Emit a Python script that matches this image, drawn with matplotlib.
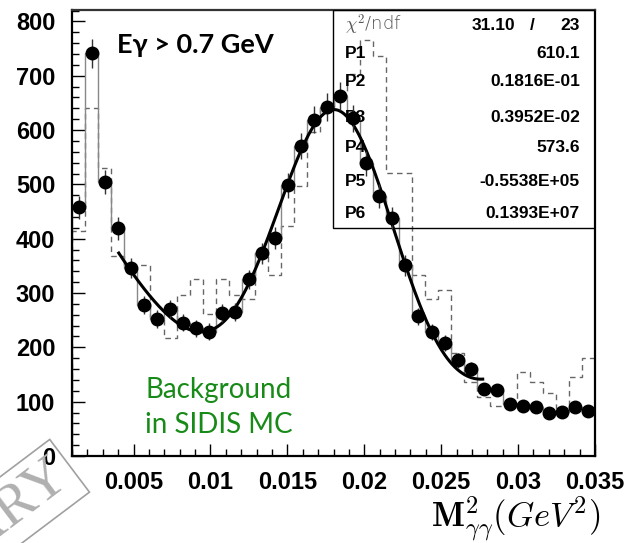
import numpy as np
import matplotlib
matplotlib.use("Agg")
import matplotlib.pyplot as plt
from matplotlib.ticker import MultipleLocator
from matplotlib.patches import Rectangle

# ---------------- data ----------------
x_min, x_max, n_bins = 0.001, 0.035, 40
data_counts = [458, 741, 504, 419, 346, 278, 252, 270, 245, 235,
               229, 263, 265, 325, 373, 401, 498, 570, 619, 642,
               662, 622, 539, 478, 438, 351, 257, 228, 208, 176,
               160, 123, 121, 96, 92, 90, 79, 81, 90, 83]
mc_counts = [414, 640, 530, 368, 351, 351, 255, 218, 296, 325,
             262, 325, 296, 289, 373, 333, 424, 497, 596, 640,
             665, 704, 765, 737, 521, 521, 333, 289, 305, 190,
             137, 109, 92, 92, 155, 137, 116, 88, 145, 180]
fit_params = [610.1, 0.01816, 0.003952, 573.6, -0.5538e5, 0.1393e7]
fit_range = (0.00404, 0.0277)
chi2, ndf = "31.10", "23"
param_names = ["P1", "P2", "P3", "P4", "P5", "P6"]
param_labels = ["610.1", "0.1816E-01", "0.3952E-02", "573.6", "-0.5538E+05", "0.1393E+07"]
xticks = [0.005, 0.01, 0.015, 0.02, 0.025, 0.03, 0.035]
xtick_labels = ["0.005", "0.01", "0.015", "0.02", "0.025", "0.03", "0.035"]
yticks = [0, 100, 200, 300, 400, 500, 600, 700, 800]

edges = np.linspace(x_min, x_max, n_bins + 1)
centers = 0.5 * (edges[:-1] + edges[1:])
data = np.array(data_counts, float)
mc = np.array(mc_counts, float)

plt.rcParams["mathtext.fontset"] = "cm"

# ---------------- figure ----------------
W, H = 627, 543
fig = plt.figure(figsize=(W / 100, H / 100), dpi=100)
L, R, B, T = 72, 595, 456, 10
ax = fig.add_axes([L / W, (H - B) / H, (R - L) / W, (B - T) / H])

ax.stairs(mc, edges, color="#666666", lw=1.0, ls=(0, (4, 3)), zorder=2)
ax.stairs(data, edges, color="#888888", lw=1.0, zorder=2)

p1, p2, p3, p4, p5, p6 = fit_params
xf = np.linspace(fit_range[0], fit_range[1], 300)
yf = p1 * np.exp(-0.5 * ((xf - p2) / p3) ** 2) + p4 + p5 * xf + p6 * xf ** 2
ax.plot(xf, yf, color="black", lw=2.2, zorder=4)

ax.errorbar(centers, data, yerr=np.sqrt(data), fmt="o", color="black",
            ms=9, elinewidth=1.0, ecolor="#333333", capsize=0, zorder=6)

ax.set_xlim(x_min, x_max)
ax.set_ylim(0, 821)
ax.set_xticks(xticks)
ax.set_xticklabels(xtick_labels)
ax.set_yticks(yticks)
ax.xaxis.set_minor_locator(MultipleLocator(0.001))
ax.yaxis.set_minor_locator(MultipleLocator(20))
ax.tick_params(axis="both", which="both", direction="in", top=False, right=False,
               colors="black")
ax.tick_params(which="major", length=9, width=1.0)
ax.tick_params(which="minor", length=5, width=1.0)
ax.tick_params(axis="y", pad=12)
ax.tick_params(axis="x", pad=11)
for lab in ax.get_xticklabels() + ax.get_yticklabels():
    lab.set_fontfamily("Liberation Sans")
    lab.set_fontweight("bold")
    lab.set_fontsize(17)
for s in ["left", "bottom", "right", "top"]:
    ax.spines[s].set_linewidth(1.6)
    ax.spines[s].set_color("black")
ax.spines["top"].set_color("#333333")

# ---------------- stats box ----------------
def ypx(py):
    return (B - py) / (B - T)

def xpx(px):
    return (px - L) / (R - L)

ax.add_patch(Rectangle((xpx(333), ypx(228)), xpx(595) - xpx(333), ypx(10) - ypx(228),
                       transform=ax.transAxes, fill=False, ec="black", lw=1.0, zorder=3))
ax.text(xpx(345), ypx(25), r"$\chi^2$/ndf", transform=ax.transAxes, fontsize=13,
        color="#555555", va="center", ha="left", family="DejaVu Sans",
        fontweight="light", zorder=3)
ax.text(xpx(515), ypx(25), chi2, transform=ax.transAxes, fontsize=12.5, fontweight="bold",
        family="Liberation Sans", va="center", ha="right", zorder=3)
ax.text(xpx(532), ypx(25), "/", transform=ax.transAxes, fontsize=12.5, fontweight="bold",
        family="Liberation Sans", va="center", ha="center", zorder=3)
ax.text(xpx(580), ypx(25), ndf, transform=ax.transAxes, fontsize=12.5, fontweight="bold",
        family="Liberation Sans", va="center", ha="right", zorder=3)
row_y = [53, 82, 117, 148, 182, 214]
for name, lab, py in zip(param_names, param_labels, row_y):
    ax.text(xpx(345), ypx(py), name, transform=ax.transAxes, fontsize=12.5,
            fontweight="bold", family="Liberation Sans", va="center", ha="left", zorder=3)
    ax.text(xpx(580), ypx(py), lab, transform=ax.transAxes, fontsize=12.5,
            fontweight="bold", family="Liberation Sans", va="center", ha="right", zorder=3)

# ---------------- annotations ----------------
fig.text(117 / W, (H - 45) / H, "Eγ > 0.7 GeV", fontsize=19.5, fontweight="bold",
         family="Lato", va="center", ha="left")
fig.text(145 / W, (H - 433) / H, "Background\nin SIDIS MC", fontsize=20,
         family="Lato", color="#178a17", va="baseline", ha="left", linespacing=1.42)

fig.text(600 / W, (H - 527) / H, r"$\mathbf{M^{2}_{\gamma\gamma}}(GeV^2)$", fontsize=25,
         ha="right", va="baseline")

# watermark stamp (partially outside the figure)
fig.text(64 / W, (H - 470) / H, "PRELIMINARY", fontsize=42, family="Liberation Serif",
         color="#b0b0b0", rotation=37, rotation_mode="anchor", ha="right", va="center",
         bbox=dict(boxstyle="square,pad=0.12", fc="none", ec="#a0a0a0", lw=1.2))

fig.savefig("out.png", dpi=100)
